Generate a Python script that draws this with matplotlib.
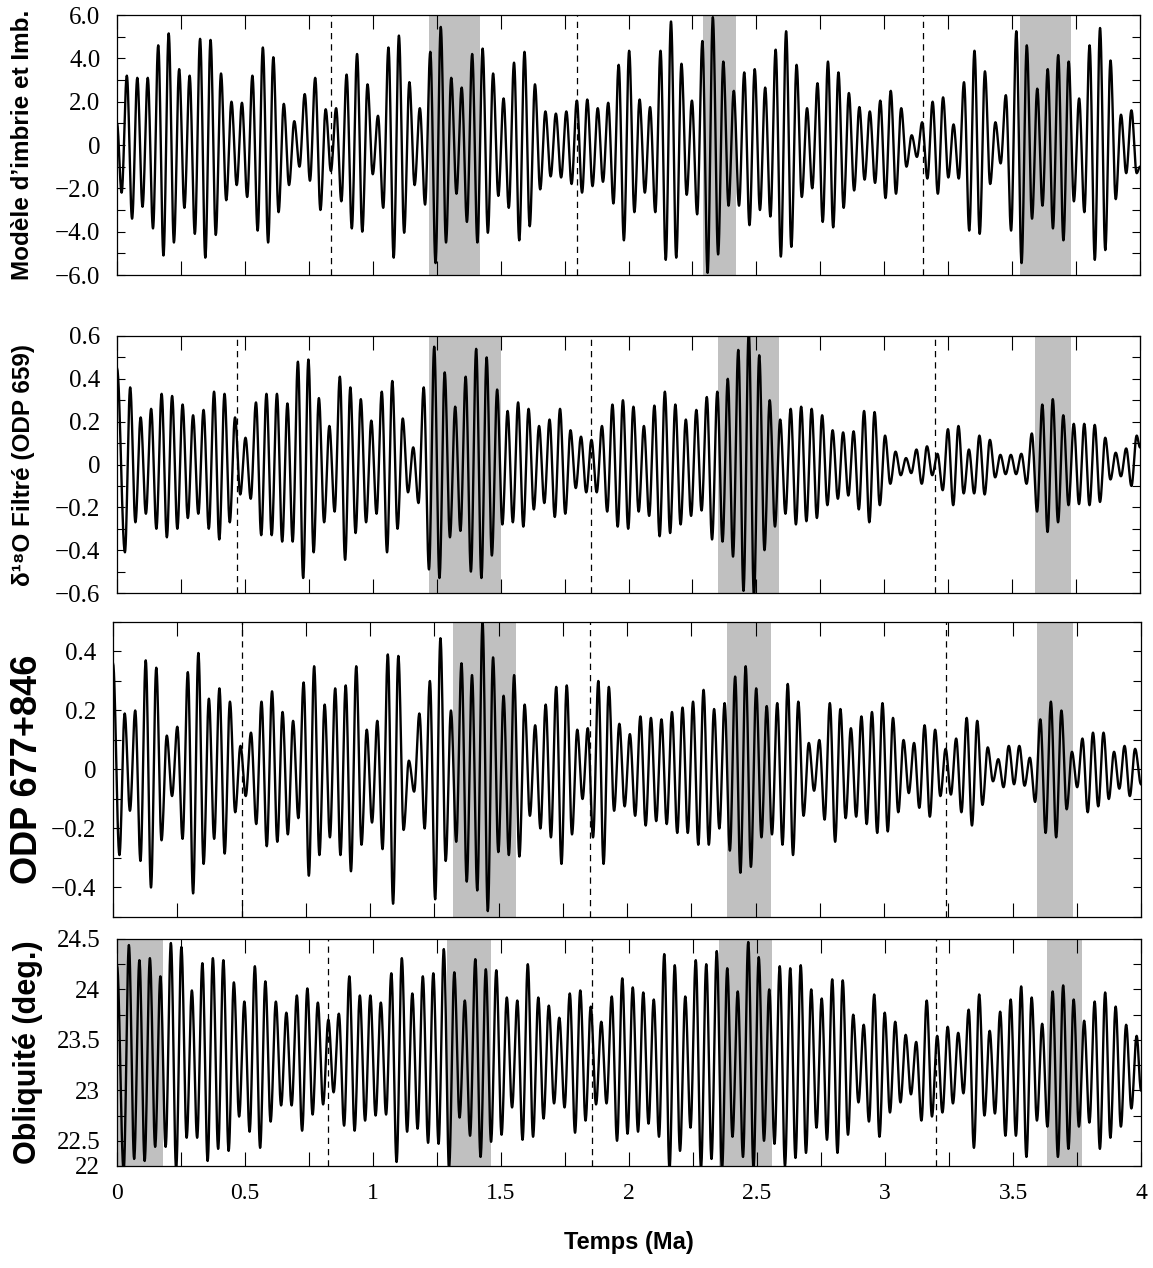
import numpy as np
import matplotlib
matplotlib.use("Agg")
import matplotlib.pyplot as plt
from matplotlib.ticker import MultipleLocator, FixedLocator

# --- extrema (alternating trough / peak), per panel ---
# panel 1 : Modèle d'imbrie et Imbrie
imbrie_start, imbrie_end = 1.0, -1.0
imbrie_span = (0.018, 3.987)
imbrie_ext = [
    -2.2,
    3.2, -3.4, 3.1, -2.85, 3.1, -3.85, 4.6, -5.1, 5.15, -4.5, 3.5, -2.9, 3.2, -4.1, 4.9, -5.2,
    4.85, -4.15, 3.3, -2.55, 2.0, -1.85, 1.95, -2.4, 3.2, -3.95, 4.5, -4.5, 4.05, -3.1, 1.9, -1.85,
    1.1, -1.0, 2.35, -1.65, 3.1, -3.0, 1.65, -1.2, 1.7, -2.6, 3.25, -3.85, 4.2, -4.0, 2.8, -1.35,
    1.35, -2.9, 4.5, -5.2, 5.05, -4.05, 2.9, -1.85, 1.7, -2.75, 4.3, -5.45, 5.45, -4.5, 3.1, -2.25,
    2.65, -3.55, 4.2, -4.5, 4.45, -4.05, 3.3, -2.35, 2.15, -2.9, 3.8, -4.4, 4.3, -3.75, 2.8, -2.05,
    1.55, -1.45, 1.45, -1.5, 1.55, -1.8, 2.05, -2.2, 2.1, -1.9, 1.7, -1.7, 1.95, -2.7, 3.7, -4.4,
    4.35, -3.1, 2.1, -2.2, 1.75, -3.1, 4.35, -5.3, 5.7, -5.2, 3.75, -2.3, 2.05, -3.2, 4.8, -5.9,
    5.9, -5.05, 3.85, -2.8, 2.5, -2.8, 3.35, -3.7, 3.5, -3.0, 2.65, -3.3, 4.4, -5.15, 5.25, -4.7, 3.7,
    -2.4, 1.7, -2.0, 2.85, -3.55, 3.85, -3.8, 3.35, -2.9, 2.4, -2.1, 1.75, -1.6, 1.55, -1.75, 2.05,
    -2.45, 2.5, -2.25, 1.7, -1.0, 0.45, -0.55, 1.05, -1.55, 2.0, -2.25, 2.2, -1.5, 0.95, -1.55, 2.9,
    -3.95, 4.35, -4.1, 3.4, -1.8, 1.05, -0.85, 2.3, -3.95, 5.25, -5.45, 4.6, -3.4, 2.6, -2.8, 3.5,
    -3.85, 4.15, -4.4, 3.85, -2.6, 2.15, -3.1, 4.6, -5.3, 5.4, -4.85, 3.9, -2.5, 1.4, -1.3, 1.6, -1.3,
]

# panel 2 : delta18O filtré ODP 659
odp659_start, odp659_end = 0.45, 0.08
odp659_span = (0.031, 3.987)
odp659_ext = [
    -0.41,
    0.36, -0.27, 0.22, -0.23, 0.26, -0.30, 0.33, -0.34, 0.32, -0.30, 0.28, -0.25, 0.23, -0.23,
    0.255, -0.30, 0.34, -0.35, 0.33, -0.27, 0.22, -0.14, 0.125, -0.16, 0.29, -0.33, 0.33, -0.33,
    0.33, -0.36, 0.285, -0.36, 0.48, -0.53, 0.49, -0.41, 0.31, -0.27, 0.18, -0.22, 0.41, -0.445,
    0.36, -0.32, 0.305, -0.27, 0.205, -0.23, 0.34, -0.41, 0.39, -0.30, 0.215, -0.13, 0.08, -0.18,
    0.36, -0.49, 0.55, -0.53, 0.43, -0.34,
    0.27, -0.31, 0.41, -0.50, 0.54, -0.53, 0.50, -0.425, 0.35, -0.28, 0.25, -0.27, 0.29, -0.29,
    0.26, -0.21, 0.18, -0.18, 0.21, -0.245, 0.26, -0.23, 0.16, -0.11, 0.13, -0.13, 0.115, -0.13,
    0.18, -0.22, 0.28, -0.29, 0.30, -0.30, 0.27, -0.22, 0.18, -0.24, 0.275, -0.335, 0.34, -0.32,
    0.28, -0.28, 0.21, -0.24, 0.255, -0.215, 0.315, -0.35, 0.34, -0.36, 0.40, -0.43, 0.535, -0.59,
    0.62, -0.62, 0.51, -0.40, 0.30, -0.29, 0.21, -0.23, 0.26,
    -0.28, 0.27, -0.265, 0.26, -0.25, 0.23, -0.19, 0.16, -0.16, 0.15, -0.145, 0.155, -0.21, 0.25,
    -0.27, 0.245, -0.19, 0.135, -0.09, 0.06, -0.05, 0.03, -0.04, 0.07, -0.09, 0.085, -0.05, 0.05,
    -0.12, 0.165, -0.19, 0.18, -0.135, 0.07, -0.135, 0.135, -0.14, 0.115, -0.06, 0.045, -0.045,
    0.045, -0.045, 0.05, -0.09, 0.145, -0.22, 0.28, -0.315, 0.305, -0.27, 0.23, -0.19, 0.19,
    -0.185, 0.19, -0.19, 0.185, -0.175, 0.125, -0.07, 0.055, -0.055, 0.075, -0.10, 0.135,
]

# panel 3 : ODP 677+846
odp677_start, odp677_end = 0.36, -0.05
odp677_span = (0.025, 3.977)
odp677_ext = [
    -0.29, 0.19, -0.14, 0.20, -0.31, 0.37, -0.40, 0.345, -0.24, 0.115, -0.09, 0.145, -0.235, 0.33,
    -0.42, 0.395, -0.32, 0.24, -0.235, 0.275, -0.285, 0.23, -0.145, 0.08, -0.09, 0.125, -0.185,
    0.23, -0.26, 0.265, -0.245, 0.195, -0.22, 0.165, -0.165, 0.295, -0.36, 0.35, -0.29, 0.22,
    -0.23, 0.275, -0.29, 0.285, -0.345, 0.35, -0.255, 0.135, -0.18, 0.165, -0.27, 0.39, -0.455,
    0.385, -0.205, 0.03, -0.075, 0.19, -0.20, 0.30, -0.44, 0.445, -0.31, 0.20, -0.245, 0.36,
    -0.38, 0.32, -0.41, 0.50, -0.48, 0.38, -0.28, 0.25, -0.29, 0.32, -0.295, 0.22, -0.157, 0.15,
    -0.20, 0.22, -0.23, 0.28, -0.32, 0.285, -0.22, 0.135, -0.10, 0.14, -0.23, 0.30, -0.32, 0.28,
    -0.14, 0.155, -0.125, 0.12, -0.157, 0.18, -0.19, 0.175, -0.175, 0.17, -0.185, 0.195, -0.215,
    0.21, -0.215, 0.23, -0.255, 0.27, -0.255, 0.205, -0.20, 0.225, -0.275, 0.315, -0.35, 0.35,
    -0.33, 0.275, -0.23, 0.215, -0.22, 0.225, -0.255, 0.29,
    -0.29, 0.23, -0.157, 0.09, -0.072, 0.10, -0.17, 0.225, -0.245, 0.205, -0.165, 0.14, -0.16,
    0.18, -0.185, 0.195, -0.215, 0.225, -0.21, 0.175, -0.145, 0.10, -0.08, 0.09, -0.13, 0.15,
    -0.16, 0.135, -0.09, 0.07, -0.085, 0.105, -0.145, 0.175, -0.19, 0.165, -0.12, 0.075, -0.04,
    0.035, -0.06, 0.08, -0.05, 0.08, -0.055, 0.04, -0.11, 0.17, -0.215, 0.23, -0.23, 0.20, -0.135,
    0.06, -0.06, 0.105, -0.145, 0.125, -0.125, 0.125, -0.10, 0.06, -0.065, 0.08, -0.09, 0.07,
]

# panel 4 : obliquité
obl_start, obl_end = 24.24, 23.0
obl_span = (0.026, 3.983)
obl_ext = [
    22.2, 24.44, 22.32, 24.29, 22.30, 24.31, 22.44, 24.13, 22.44, 24.46, 22.22, 24.42, 22.53,
    23.99, 22.53, 24.26, 22.30, 24.31, 22.42, 24.29, 22.40, 24.07, 22.74, 23.88, 22.59, 24.23,
    22.43, 24.08, 22.69, 23.88, 22.85, 23.77, 22.85, 23.94, 22.60, 24.01, 22.76, 23.87, 22.86,
    23.70, 22.98, 23.76, 22.65, 24.13, 22.60, 23.94, 22.70, 23.94, 22.75, 23.87, 22.76, 24.16,
    22.29, 24.31, 22.59, 23.96, 22.62, 24.13, 22.48, 24.16, 22.47, 24.40, 22.24,
    24.17, 22.73, 23.89, 22.55, 24.30, 22.34, 24.20, 22.49, 24.19, 22.56, 23.92, 22.83, 23.89,
    22.51, 24.25, 22.54, 23.92, 22.72, 23.84, 22.87, 23.72, 22.83, 23.96, 22.58, 23.99, 22.70,
    23.83, 22.86, 23.68, 22.87, 23.93, 22.50, 24.11, 22.57, 24.02, 22.59, 23.97, 22.67, 23.90,
    22.54, 24.35, 22.22, 24.24, 22.40, 23.93, 22.63, 24.29, 22.23, 24.25, 22.32, 24.38, 22.21,
    24.21, 22.54, 23.98, 22.34, 24.47, 22.23, 24.32, 22.50, 24.00, 22.47, 24.23, 22.25, 24.21,
    22.33, 24.24, 22.38, 24.0, 22.63, 23.91, 22.51, 24.10, 22.38, 24.09, 22.56, 23.75, 22.88,
    23.65, 22.69, 23.95, 22.54, 23.77, 22.78, 23.68, 22.88, 23.55, 22.96, 23.48, 22.70, 23.89,
    22.74, 23.54, 22.78, 23.63, 22.87, 23.57, 22.97, 23.80, 22.43, 23.95, 22.75, 23.59, 22.77,
    23.78, 22.55, 23.90, 22.55, 24.03, 22.34, 23.92, 22.70, 23.66, 22.64, 23.98, 22.34, 24.04,
    22.42, 23.90, 22.64, 23.69, 22.68, 23.88, 22.42, 23.97, 22.53, 23.83, 22.64, 23.65, 22.82,
    23.54,
]

# shaded intervals and dashed markers (Ma)
imbrie_bands = [(1.22, 1.42), (2.29, 2.42), (3.53, 3.73)]
imbrie_lines = [0.835, 1.80, 3.15]
odp659_bands = [(1.22, 1.50), (2.35, 2.59), (3.59, 3.73)]
odp659_lines = [0.471, 1.854, 3.198]
odp677_bands = [(1.324, 1.567), (2.39, 2.56), (3.597, 3.734)]
odp677_lines = [0.503, 1.856, 3.24]
obl_bands = [(0.0, 0.18), (1.29, 1.46), (2.353, 2.56), (3.634, 3.77)]
obl_lines = [0.823, 1.854, 3.20]

x_ticks = [0, 0.5, 1, 1.5, 2, 2.5, 3, 3.5, 4]
x_labels = ["0", "0.5", "1", "1.5", "2", "2.5", "3", "3.5", "4"]


def trace(start, end, span, ext, npts=14):
    # smooth curve through the read extrema (half-cosine between turning points)
    t_ext = np.concatenate([[0.0], np.linspace(span[0], span[1], len(ext)), [4.0]])
    v_ext = np.concatenate([[start], ext, [end]])
    ts, vs = [], []
    for i in range(len(t_ext) - 1):
        s = np.linspace(0, 1, npts, endpoint=False)
        w = (1 - np.cos(np.pi * s)) / 2
        ts.append(t_ext[i] + (t_ext[i + 1] - t_ext[i]) * s)
        vs.append(v_ext[i] + (v_ext[i + 1] - v_ext[i]) * w)
    ts.append([t_ext[-1]])
    vs.append([v_ext[-1]])
    return np.concatenate(ts), np.concatenate(vs)


serif = "Liberation Serif"
sans = "Liberation Sans"

fig = plt.figure(figsize=(11.53, 12.68), dpi=100)
W, H = 1153, 1268


def box(left, top, right, bottom):
    return [left / W, 1 - bottom / H, (right - left) / W, (bottom - top) / H]


panels = [
    dict(pos=box(117, 15, 1140, 275), data=(imbrie_start, imbrie_end, imbrie_span, imbrie_ext),
         bands=imbrie_bands, lines=imbrie_lines, ylim=(-6, 6), major=[-6, -4, -2, 0, 2, 4, 6],
         labels=["\u22126.0", "\u22124.0", "\u22122.0", "0", "2.0", "4.0", "6.0"], minor=1.0,
         ylabel="Modèle d\u2019imbrie et Imb.", lsize=17.5, lx=-0.081),
    dict(pos=box(117, 336, 1140, 593), data=(odp659_start, odp659_end, odp659_span, odp659_ext),
         bands=odp659_bands, lines=odp659_lines, ylim=(-0.6, 0.6),
         major=[-0.6, -0.4, -0.2, 0, 0.2, 0.4, 0.6],
         labels=["\u22120.6", "\u22120.4", "\u22120.2", "0", "0.2", "0.4", "0.6"], minor=0.1,
         ylabel="\u03b4\u00b9\u2078O Filtré (ODP 659)", lsize=17.5, lx=-0.080),
    dict(pos=box(113, 622, 1141, 917), data=(odp677_start, odp677_end, odp677_span, odp677_ext),
         bands=odp677_bands, lines=odp677_lines, ylim=(-0.5, 0.5),
         major=[-0.4, -0.2, 0, 0.2, 0.4],
         labels=["\u22120.4", "\u22120.2", "0", "0.2", "0.4"], minor=0.1,
         ylabel="ODP 677+846", lsize=26, lx=-0.066),
    dict(pos=box(117, 939, 1141, 1166), data=(obl_start, obl_end, obl_span, obl_ext),
         bands=obl_bands, lines=obl_lines, ylim=(22.25, 24.5),
         major=[22.25, 22.5, 23, 23.5, 24, 24.5],
         labels=["22", "22.5", "23", "23.5", "24", "24.5"], minor=0.25,
         ylabel="Obliquité (deg.)", lsize=22, lx=-0.072),
]

for k, p in enumerate(panels):
    ax = fig.add_axes(p["pos"])
    t, v = trace(*p["data"])
    for a, b in p["bands"]:
        ax.axvspan(a, b, color="#c0c0c0", lw=0, zorder=0)
    for x in p["lines"]:
        ax.axvline(x, color="black", lw=0.9, ls=(0, (5, 4)), zorder=1)
    ax.plot(t, v, color="black", lw=1.7, zorder=2)
    ax.set_xlim(0, 4)
    ax.set_ylim(*p["ylim"])
    ax.xaxis.set_major_locator(FixedLocator(x_ticks))
    ax.xaxis.set_minor_locator(MultipleLocator(0.25))
    ax.yaxis.set_major_locator(FixedLocator(p["major"]))
    ax.set_yticklabels(p["labels"])
    ax.yaxis.set_minor_locator(MultipleLocator(p["minor"]))
    ax.tick_params(which="both", direction="in", top=True, right=True)
    ax.tick_params(axis="x", which="both", length=10, width=0.8, pad=12)
    ax.tick_params(axis="y", which="both", length=6, width=0.8, pad=12)
    if k < 3:
        ax.set_xticklabels([])
    else:
        ax.set_xticklabels(x_labels)
    for lab in ax.get_yticklabels():
        lab.set_fontfamily(serif)
        lab.set_fontsize(18)
    for lab in ax.get_xticklabels():
        lab.set_fontfamily(serif)
        lab.set_fontsize(17)
    ax.set_ylabel(p["ylabel"], fontfamily=sans, fontweight="bold", fontsize=p["lsize"])
    ax.yaxis.set_label_coords(p["lx"], 0.5)
    for sp in ax.spines.values():
        sp.set_linewidth(0.9)

fig.text(0.5455, 0.0205, "Temps (Ma)", ha="center", va="center",
         fontfamily=sans, fontweight="bold", fontsize=17)

fig.savefig("out.png", dpi=100)
